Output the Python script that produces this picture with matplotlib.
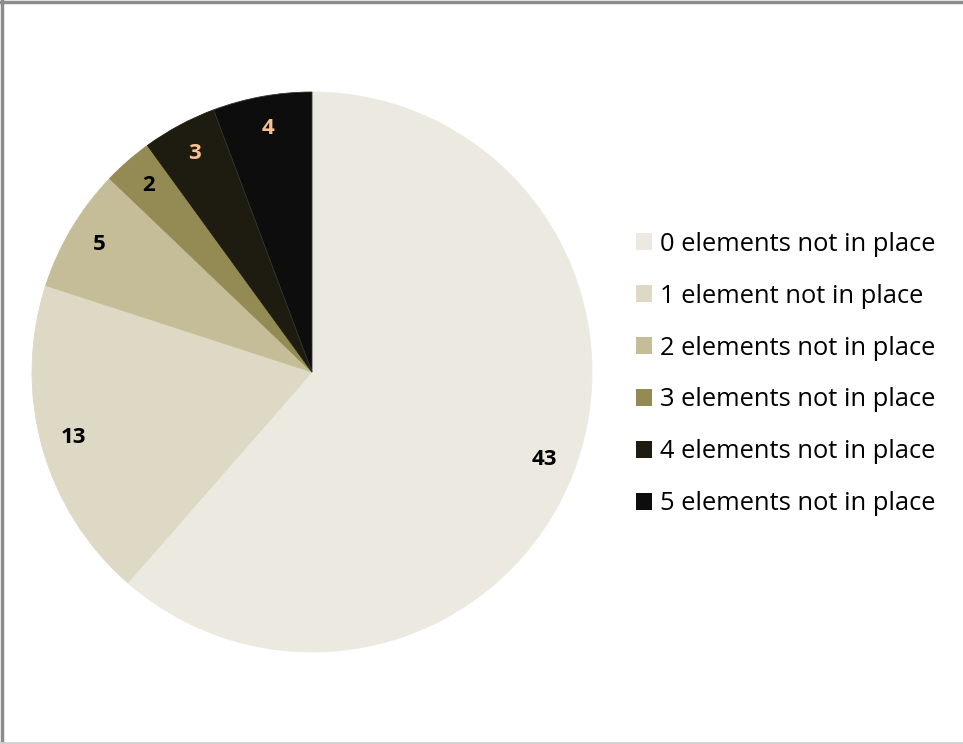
import matplotlib.pyplot as plt
from matplotlib.lines import Line2D
from matplotlib.patches import Patch

# data
labels = ['0 elements not in place', '1 element not in place', '2 elements not in place',
          '3 elements not in place', '4 elements not in place', '5 elements not in place']
values = [43, 13, 5, 2, 3, 4]
colors = ['#ECEAE0', '#DDD9C4', '#C4BD97', '#948A54', '#1E1C11', '#0D0D0D']
label_colors = ['black', 'black', 'black', 'black', '#FAC090', '#FAC090']

W, H = 963, 744
fig = plt.figure(figsize=(W / 100, H / 100), dpi=100)
fig.patch.set_facecolor('white')

# pie axes: centre (312, 372), radius 280 px
ax = fig.add_axes([32 / W, (H - 652) / H, 560 / W, 560 / H])
wedges, texts = ax.pie(values, colors=colors, startangle=90, counterclock=False,
                       labels=[str(v) for v in values], labeldistance=0.885,
                       textprops=dict(fontsize=16, fontweight='bold', family=['Open Sans', 'DejaVu Sans']))
for w in wedges:
    w.set_edgecolor(w.get_facecolor())
    w.set_linewidth(0.6)
wedges[5].set_edgecolor('#333333')
for t, c in zip(texts, label_colors):
    t.set_color(c)
    t.set_ha('center')
    t.set_va('center')
ax.set_xlim(-1, 1)
ax.set_ylim(-1, 1)
ax.set_aspect('equal')

# legend
handles = [Patch(facecolor=c, edgecolor='none') for c in colors]
fig.legend(handles, labels, loc='center left', bbox_to_anchor=(613 / W, 1 - 374 / H),
           frameon=False, handlelength=0.64, handleheight=0.64,
           handletextpad=0.3, labelspacing=1.05,
           prop=dict(family=['Open Sans', 'DejaVu Sans'], size=18.4))

# frame lines
fig.add_artist(Line2D([0, 1], [1 - 1.5 / H, 1 - 1.5 / H], color='#8c8c8c', linewidth=2.5))
fig.add_artist(Line2D([2 / W, 2 / W], [0, 1], color='#8c8c8c', linewidth=2.5))
fig.add_artist(Line2D([0, 1], [1.5 / H, 1.5 / H], color='#d0d0d0', linewidth=2))

fig.savefig('out.png', dpi=100)
